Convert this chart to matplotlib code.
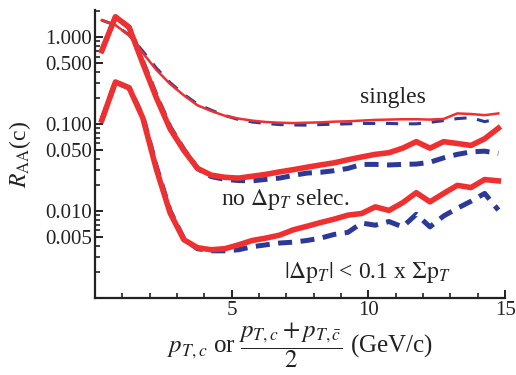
import numpy as np
import matplotlib
matplotlib.use("Agg")
import matplotlib.pyplot as plt
from matplotlib.ticker import FixedLocator, NullFormatter

# bin centres (GeV/c)
pt = [0.25, 0.75, 1.25, 1.75, 2.25, 2.75, 3.25, 3.75, 4.25, 4.75,
      5.25, 5.75, 6.25, 6.75, 7.25, 7.75, 8.25, 8.75, 9.25, 9.75,
      10.25, 10.75, 11.25, 11.75, 12.25, 12.75, 13.25, 13.75, 14.25, 14.75]

# singles
singles_red = [1.57, 1.38, 1.05, 0.66, 0.42, 0.29, 0.215, 0.165, 0.142, 0.125,
               0.116, 0.110, 0.106, 0.104, 0.103, 0.104, 0.105, 0.107, 0.108, 0.110,
               0.112, 0.113, 0.114, 0.114, 0.113, 0.115, 0.133, 0.131, 0.127, 0.133]
singles_blue = [1.57, 1.38, 1.06, 0.69, 0.44, 0.30, 0.22, 0.17, 0.145, 0.126,
                0.113, 0.106, 0.102, 0.099, 0.098, 0.0975, 0.099, 0.100, 0.101, 0.102,
                0.102, 0.102, 0.101, 0.101, 0.105, 0.110, 0.116, 0.119, 0.107, 0.116]

# no Delta pT selection
nosel_red = [0.70, 1.72, 1.30, 0.50, 0.20, 0.088, 0.050, 0.031, 0.026, 0.0245,
             0.024, 0.0252, 0.0265, 0.0283, 0.030, 0.032, 0.034, 0.036, 0.039, 0.042,
             0.045, 0.047, 0.053, 0.063, 0.053, 0.063, 0.060, 0.057, 0.068, 0.090]
nosel_blue = [0.70, 1.72, 1.30, 0.52, 0.21, 0.092, 0.051, 0.031, 0.025, 0.0232,
              0.0225, 0.0223, 0.0232, 0.024, 0.0258, 0.0274, 0.028, 0.0292, 0.031, 0.0345,
              0.0345, 0.0340, 0.0345, 0.0348, 0.0365, 0.041, 0.045, 0.048, 0.049, 0.046]

# |Delta pT| < 0.1 x Sigma pT
cut_red = [0.111, 0.306, 0.262, 0.118, 0.030, 0.0095, 0.0047, 0.0038, 0.0036, 0.0037,
           0.0041, 0.0046, 0.0049, 0.0053, 0.0061, 0.0067, 0.0074, 0.0081, 0.0090, 0.0094,
           0.0112, 0.0102, 0.0125, 0.0163, 0.0128, 0.0160, 0.0198, 0.0187, 0.0231, 0.0223]
cut_blue = [0.111, 0.306, 0.262, 0.122, 0.032, 0.0100, 0.0048, 0.0037, 0.0035, 0.0035,
            0.0036, 0.0039, 0.0041, 0.0043, 0.0044, 0.0046, 0.0049, 0.0054, 0.0057, 0.0073,
            0.0069, 0.0076, 0.0066, 0.0092, 0.0066, 0.0088, 0.0108, 0.0130, 0.0160, 0.0103]

plt.rcParams["font.family"] = ["Liberation Serif", "DejaVu Serif"]
plt.rcParams["mathtext.fontset"] = "stix"

red = "#ee3030"
blue = "#2b3a98"
ink = "#222222"

fig = plt.figure(figsize=(5.16, 3.75), dpi=100)
ax = fig.add_axes([0.184, 0.205, 0.795, 0.768])

ax.plot(pt, singles_blue, color=blue, lw=2.2, ls=(0, (4, 3.5)), dash_capstyle="butt")
ax.plot(pt, nosel_blue, color=blue, lw=3.6, ls=(0, (2.8, 1.7)), dash_capstyle="butt")
ax.plot(pt, cut_blue, color=blue, lw=3.6, ls=(0, (2.8, 1.7)), dash_capstyle="butt")
ax.plot(pt, singles_red, color=red, lw=1.8)
ax.plot(pt, nosel_red, color=red, lw=4.0)
ax.plot(pt, cut_red, color=red, lw=4.0)

ax.set_yscale("log")
ax.set_xlim(0, 15)
ax.set_ylim(0.001, 2.05)

ax.spines["top"].set_visible(False)
ax.spines["right"].set_visible(False)
for s in ["left", "bottom"]:
    ax.spines[s].set_linewidth(1.6)
    ax.spines[s].set_color(ink)

yt = [0.005, 0.01, 0.05, 0.1, 0.5, 1.0]
ax.yaxis.set_major_locator(FixedLocator(yt))
ax.set_yticklabels(["0.005", "0.010", "0.050", "0.100", "0.500", "1.000"])
yminor = [m * 10.0 ** e for e in range(-3, 1) for m in range(1, 10) if m not in (1, 5)]
ax.yaxis.set_minor_locator(FixedLocator(yminor))
ax.yaxis.set_minor_formatter(NullFormatter())

ax.xaxis.set_major_locator(FixedLocator([5, 10, 15]))
ax.xaxis.set_minor_locator(FixedLocator([1, 2, 3, 4, 6, 7, 8, 9, 11, 12, 13, 14]))
ax.tick_params(which="major", direction="in", length=6, width=1.4, labelsize=15, colors=ink)
ax.tick_params(which="minor", direction="in", length=3.5, width=1.2, colors=ink)
ax.tick_params(axis="y", pad=2)
ax.tick_params(axis="x", pad=2)

ax.text(10.9, 0.205, "singles", fontsize=17, ha="center", va="center", color=ink)
ax.text(6.95, 0.0135, r"no $\Delta\mathrm{p}_T$ selec.", fontsize=17, ha="center", va="center",
        color=ink)
ax.text(9.95, 0.00195, r"$|\Delta\mathrm{p}_T|$ < 0.1 x $\Sigma\mathrm{p}_T$", fontsize=17,
        ha="center", va="center", color=ink)

ax.set_ylabel(r"$R_{\mathrm{AA}}$(c)", fontsize=17, color=ink, labelpad=9)
ax.set_xlabel(r"$p_{T,c}$ or $\dfrac{p_{T,c}+p_{T,\bar{c}}}{2}$ (GeV/c)", fontsize=18,
              color=ink, labelpad=0)

fig.savefig("out.png", dpi=100)
